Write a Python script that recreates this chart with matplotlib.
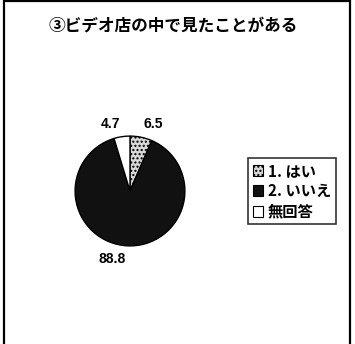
import matplotlib
matplotlib.use("Agg")
import matplotlib.pyplot as plt
from matplotlib.patches import Rectangle, Patch

title = "③ビデオ店の中で見たことがある"
categories = ["1. はい", "2. いいえ", "無回答"]
values = [6.5, 88.8, 4.7]
value_labels = ["6.5", "88.8", "4.7"]

plt.rcParams['font.family'] = ['Noto Sans CJK JP', 'DejaVu Sans']

W, H = 355, 344
fig = plt.figure(figsize=(W / 100, H / 100), dpi=100)
fig.patch.set_facecolor("white")

# outer frame (bottom edge falls outside the image)
fig.patches.append(Rectangle((4 / W, -0.02), (350 - 4) / W, 1 - 1 / H + 0.02,
                             transform=fig.transFigure, fill=False,
                             edgecolor="black", linewidth=1.6))

fig.text(173 / W, 1 - 26 / H, title, ha="center", va="center",
         fontsize=12, fontweight="bold")

cx, cy, r = 130, 191, 56
ax = fig.add_axes([(cx - r) / W, (H - cy - r) / H, 2 * r / W, 2 * r / H])
colors = ["#d8d8d8", "#111111", "white"]
hatches = ["....", None, None]
wedges, texts = ax.pie(values, labels=value_labels, colors=colors,
                       startangle=90, counterclock=False, labeldistance=1.24,
                       wedgeprops=dict(edgecolor="black", linewidth=1.0),
                       textprops=dict(fontsize=10, fontweight="bold",
                                      family=["Liberation Sans", "DejaVu Sans"]))
wedges[0].set_hatch("....")
ax.set_xlim(-1.02, 1.02)
ax.set_ylim(-1.02, 1.02)
ax.set_aspect("equal")

handles = [Patch(facecolor=c, edgecolor="black", hatch=h, linewidth=0.8)
           for c, h in zip(colors, hatches)]
leg = fig.legend(handles, categories, loc="upper left",
                 bbox_to_anchor=(248 / W, 1 - 158 / H),
                 bbox_transform=fig.transFigure,
                 fontsize=11, frameon=True, fancybox=False,
                 handlelength=0.7, handleheight=0.7, handletextpad=0.3,
                 borderpad=0.3, labelspacing=0.3, borderaxespad=0)
leg.get_frame().set_edgecolor("black")
leg.get_frame().set_linewidth(1.2)
for t in leg.get_texts():
    t.set_fontweight("bold")

fig.savefig("out.png", dpi=100, facecolor="white")
